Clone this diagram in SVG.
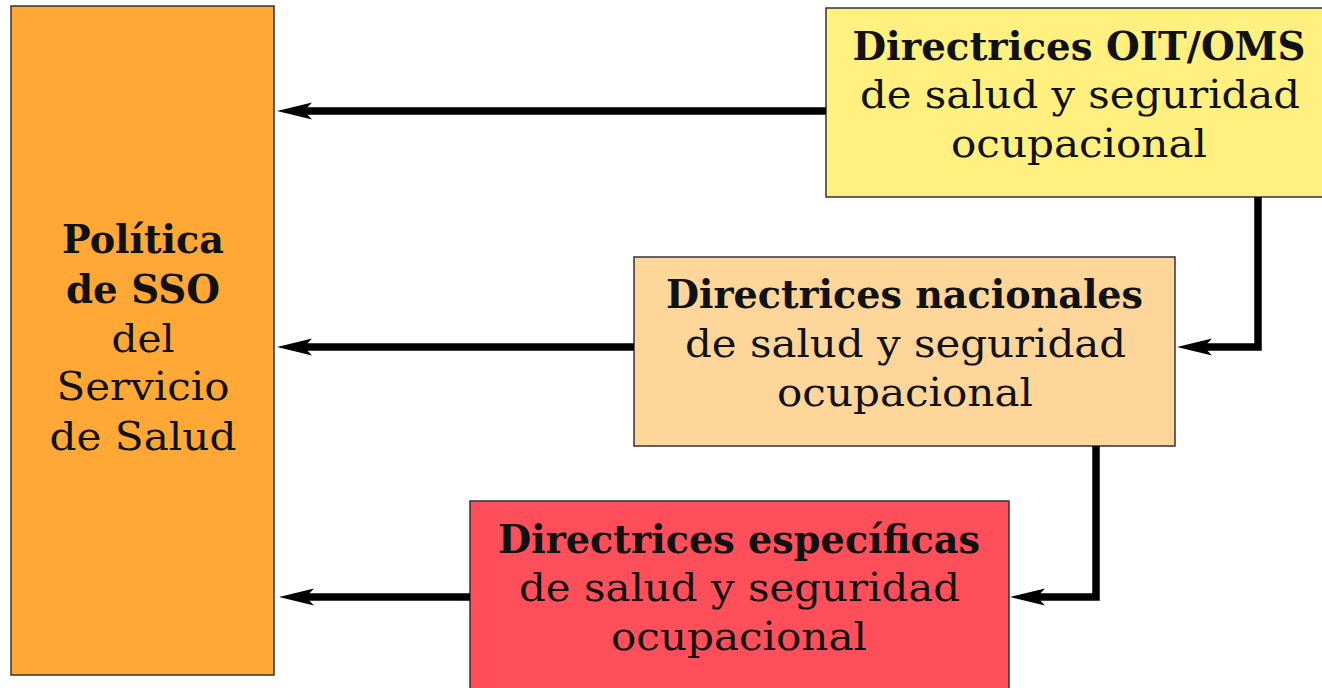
<svg xmlns="http://www.w3.org/2000/svg" width="1322" height="688" viewBox="0 0 1322 688">
<style>
.box{stroke:#333;stroke-width:1.5}
.t{font-family:"DejaVu Serif","Liberation Serif",serif;font-size:39px;fill:#111;text-anchor:middle}
.b{font-weight:bold}
.c{fill:none;stroke:#000;stroke-width:7.5;stroke-linejoin:miter}
</style>
<defs>
<marker id="ah" markerUnits="userSpaceOnUse" viewBox="-12 -10 38 20" refX="0" refY="0" markerWidth="38" markerHeight="20" orient="auto" overflow="visible">
<path d="M24,0 L-11,-8.5 L-3,0 L-11,8.5 Z" fill="#000"/>
</marker>
</defs>
<rect width="1322" height="688" fill="#fff"/>
<g id="node-politica">
<rect class="box" x="11" y="6" width="263" height="669" fill="#FFA836"/>
<text class="t b" x="143" y="253" textLength="162" lengthAdjust="spacingAndGlyphs">Política</text>
<text class="t b" x="143" y="303" textLength="154" lengthAdjust="spacingAndGlyphs">de SSO</text>
<text class="t" x="143" y="352" textLength="63" lengthAdjust="spacingAndGlyphs">del</text>
<text class="t" x="143" y="400" textLength="173" lengthAdjust="spacingAndGlyphs">Servicio</text>
<text class="t" x="143" y="450" textLength="187" lengthAdjust="spacingAndGlyphs">de Salud</text>
</g>
<g id="node-oit">
<rect class="box" x="826" y="8" width="510" height="189" fill="#FFF07F"/>
<text class="t b" x="1079" y="60" textLength="453" lengthAdjust="spacingAndGlyphs">Directrices OIT/OMS</text>
<text class="t" x="1080" y="108" textLength="440" lengthAdjust="spacingAndGlyphs">de salud y seguridad</text>
<text class="t" x="1079" y="157" textLength="256" lengthAdjust="spacingAndGlyphs">ocupacional</text>
</g>
<g id="node-nacionales">
<rect class="box" x="634" y="257" width="541" height="189" fill="#FFD69A"/>
<text class="t b" x="904.5" y="308" textLength="477" lengthAdjust="spacingAndGlyphs">Directrices nacionales</text>
<text class="t" x="905.5" y="357" textLength="441" lengthAdjust="spacingAndGlyphs">de salud y seguridad</text>
<text class="t" x="905" y="406" textLength="256" lengthAdjust="spacingAndGlyphs">ocupacional</text>
</g>
<g id="node-especificas">
<rect class="box" x="470" y="501" width="539" height="200" fill="#FF4F5A"/>
<text class="t b" x="739" y="553" textLength="482" lengthAdjust="spacingAndGlyphs">Directrices específicas</text>
<text class="t" x="739.5" y="601" textLength="441" lengthAdjust="spacingAndGlyphs">de salud y seguridad</text>
<text class="t" x="739" y="650" textLength="256" lengthAdjust="spacingAndGlyphs">ocupacional</text>
</g>
<g id="connectors">
<path class="c" d="M826,111 L301,111" marker-end="url(#ah)"/>
<path class="c" d="M634,347 L301,347" marker-end="url(#ah)"/>
<path class="c" d="M470,597 L303,597" marker-end="url(#ah)"/>
<path class="c" d="M1258,197 L1258,347 L1201,347" marker-end="url(#ah)"/>
<path class="c" d="M1096,446 L1096,597 L1034,597" marker-end="url(#ah)"/>
</g>
</svg>
